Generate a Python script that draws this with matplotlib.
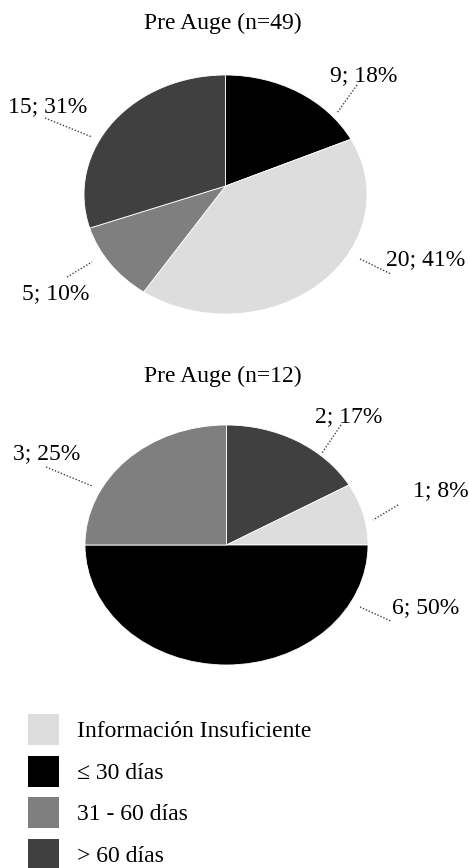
import numpy as np
import matplotlib
matplotlib.use('Agg')
import matplotlib.pyplot as plt
import matplotlib.transforms as mtransforms
from matplotlib.patches import Patch
from matplotlib.lines import Line2D

plt.rcParams['font.family'] = ['Liberation Serif', 'DejaVu Serif']

W, H = 469, 868

categories = ['Información Insuficiente', '≤ 30 días', '31 - 60 días', '> 60 días']
cat_colors = {'Información Insuficiente': '#dddddd', '≤ 30 días': '#000000',
              '31 - 60 días': '#7f7f7f', '> 60 días': '#404040'}

top_title = 'Pre Auge (n=49)'
top_cats = ['≤ 30 días', 'Información Insuficiente', '31 - 60 días', '> 60 días']
top_counts = [9, 20, 5, 15]

bottom_title = 'Pre Auge (n=12)'
bottom_cats = ['> 60 días', 'Información Insuficiente', '≤ 30 días', '31 - 60 días']
bottom_counts = [2, 1, 6, 3]


class Tilt(mtransforms.Transform):
    """Perspective tilt: unit disc -> unit disc, centre pushed up by d."""
    input_dims = 2
    output_dims = 2

    def __init__(self, d):
        super().__init__()
        self.d = d

    def transform_non_affine(self, values):
        values = np.asarray(values, dtype=float)
        x, y = values[:, 0], values[:, 1]
        w = 1 + self.d * y
        return np.column_stack([np.sqrt(1 - self.d ** 2) * x / w, (y + self.d) / w])


def fx(x):
    return x / W


def fy(y):
    return 1 - y / H


fig = plt.figure(figsize=(W / 100, H / 100), dpi=100)


def draw_pie(box, cats, counts, tilt, title, title_pos, label_pos, leaders):
    x0, y0, x1, y1 = box
    ax = fig.add_axes([fx(x0), fy(y1), fx(x1 - x0), (y1 - y0) / H])
    wedges, _ = ax.pie(counts, colors=[cat_colors[c] for c in cats], startangle=90,
                       counterclock=False, radius=1,
                       wedgeprops=dict(edgecolor='white', linewidth=0.6))
    for w in wedges:
        w.set_transform(Tilt(tilt) + ax.transData)
    ax.set_xlim(-1, 1)
    ax.set_ylim(-1, 1)
    ax.set_aspect('auto')
    ax.axis('off')

    fig.text(fx(title_pos[0]), fy(title_pos[1]), title, ha='center', va='baseline', fontsize=17)
    n = sum(counts)
    for v, (lx, ly), (a, b) in zip(counts, label_pos, leaders):
        fig.text(fx(lx), fy(ly), f'{v}; {round(100 * v / n)}%', ha='left', va='baseline',
                 fontsize=17)
        fig.add_artist(Line2D([fx(a[0]), fx(b[0])], [fy(a[1]), fy(b[1])], color='#404040',
                              linestyle=(0, (1, 1.3)), linewidth=1.0))


draw_pie((84, 75, 367, 314), top_cats, top_counts, 0.071, top_title, (223, 29),
         [(330, 81), (386, 265), (22, 299), (8, 112)],
         [((357, 85), (337, 113)), ((360, 259), (391, 274)),
          ((67, 277), (92, 262)), ((45, 118), (92, 137))])

draw_pie((85, 425, 368, 665), bottom_cats, bottom_counts, 0.0, bottom_title, (223, 382),
         [(315, 422), (413, 496), (392, 613), (13, 459)],
         [((341, 425), (322, 453)), ((398, 505), (373, 520)),
          ((360, 607), (391, 621)), ((46, 467), (92, 486))])

handles = [Patch(facecolor=cat_colors[c], edgecolor='none') for c in categories]
fig.legend(handles, categories, loc='upper left', bbox_to_anchor=(fx(28), fy(714)),
           frameon=False, borderpad=0, borderaxespad=0, handlelength=1.31,
           handleheight=1.644, handletextpad=0.77, labelspacing=0.45, fontsize=17)

fig.savefig('out.png', dpi=100)
